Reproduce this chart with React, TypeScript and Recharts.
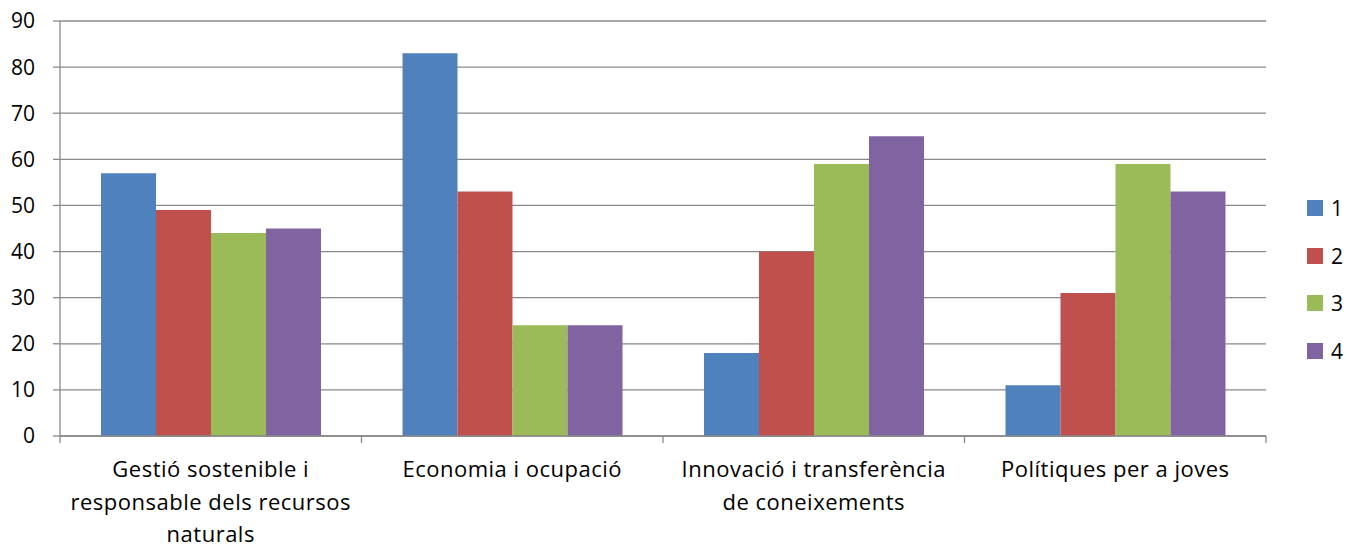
import React from 'react';
import { BarChart, Bar, XAxis, YAxis, CartesianGrid } from 'recharts';

const categories = [
  'Gestió sostenible i responsable dels recursos naturals',
  'Economia i ocupació',
  'Innovació i transferència de coneixements',
  'Polítiques per a joves',
];
const categoryLines = [
  ['Gestió sostenible i', 'responsable dels recursos', 'naturals'],
  ['Economia i ocupació'],
  ['Innovació i transferència', 'de coneixements'],
  ['Polítiques per a joves'],
];
const seriesNames = ['1', '2', '3', '4'];
const series1 = [57, 83, 18, 11];
const series2 = [49, 53, 40, 31];
const series3 = [44, 24, 59, 59];
const series4 = [45, 24, 65, 53];
const yTicks = [0, 10, 20, 30, 40, 50, 60, 70, 80, 90];
const colors = ['#4F81BD', '#C0504D', '#9BBB59', '#8064A2'];

const allSeries = [series1, series2, series3, series4];
const data = categories.map((c, i) => {
  const row: any = { name: c };
  seriesNames.forEach((s, j) => {
    row['s' + s] = allSeries[j][i];
  });
  return row;
});

const W = 1358;
const H = 545;
const XH = 109;
const M = { top: 21, right: 92, bottom: 0, left: 0 };
const YW = 60;
const FONT = '"Open Sans", Lato, sans-serif';
const FS = 21;
const plotW = W - M.left - M.right - YW;
const band = plotW / categories.length;

const CatTick = (props: any) => {
  const { x, y, payload, index } = props;
  const idx = payload.index ?? index;
  const lines = categoryLines[idx] || [String(payload.value)];
  const half = band / 2;
  return (
    <g>
      <line x1={x - half} x2={x - half} y1={y - 2} y2={y + 5} stroke="#898989" strokeWidth={1.3} />
      {idx === categories.length - 1 && (
        <line x1={x + half} x2={x + half} y1={y - 2} y2={y + 5} stroke="#898989" strokeWidth={1.3} />
      )}
      {lines.map((l: string, k: number) => (
        <text
          key={k}
          x={x}
          y={y + 39 + k * 32.5}
          textAnchor="middle"
          fontSize={22}
          letterSpacing={0.5}
          fontFamily={FONT}
          fill="#000"
        >
          {l}
        </text>
      ))}
    </g>
  );
};

export default function App() {
  return (
    <div style={{ position: 'absolute', left: 0, top: 0, width: W, height: H, background: '#fff' }}>
      <BarChart width={W} height={H} data={data} margin={M} barGap={0} barCategoryGap={41}>
        <CartesianGrid vertical={false} stroke="#898989" strokeWidth={1.3} />
        <XAxis
          dataKey="name"
          axisLine={{ stroke: '#898989', strokeWidth: 1.3 }}
          tickLine={false}
          tickSize={0}
          tick={<CatTick />}
          interval={0}
          height={XH}
        />
        <YAxis
          domain={[0, 90]}
          ticks={yTicks}
          width={YW}
          axisLine={{ stroke: '#898989', strokeWidth: 1.3 }}
          tickLine={{ stroke: '#898989', strokeWidth: 1.3 }}
          tickSize={7}
          tickMargin={18}
          interval={0}
          tick={{ fontSize: FS, fontFamily: FONT, fill: '#000' }}
        />
        {seriesNames.map((s, j) => (
          <Bar key={s} dataKey={'s' + s} name={s} fill={colors[j]} isAnimationActive={false} />
        ))}
      </BarChart>
      {seriesNames.map((s, j) => (
        <div
          key={s}
          style={{
            position: 'absolute',
            left: 1307,
            top: 200 + j * 47.7,
            display: 'flex',
            alignItems: 'center',
            fontFamily: FONT,
            fontSize: FS,
            color: '#000',
            lineHeight: '16px',
          }}
        >
          <span style={{ display: 'inline-block', width: 16, height: 16, background: colors[j], marginRight: 8 }} />
          <span>{s}</span>
        </div>
      ))}
    </div>
  );
}
